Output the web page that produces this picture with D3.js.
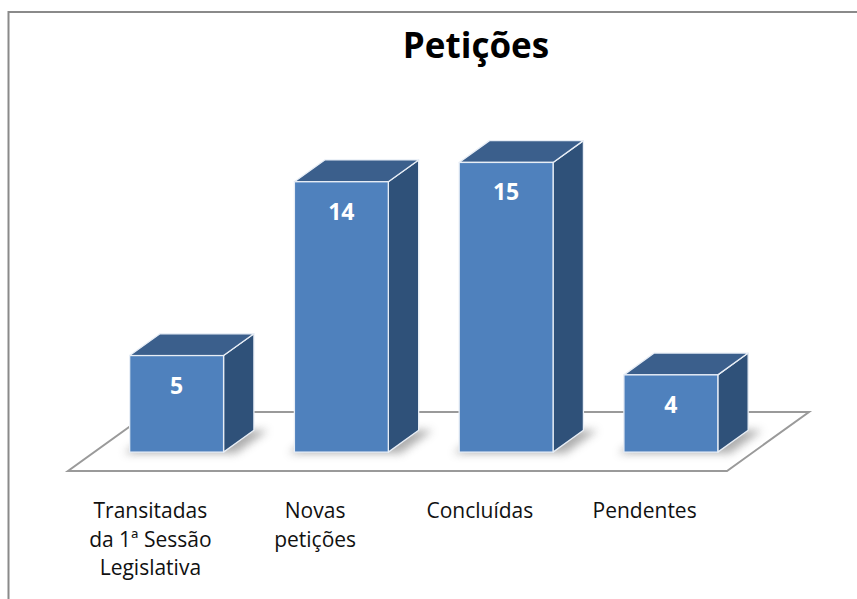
<!DOCTYPE html>
<html>
<head>
<meta charset="utf-8">
<script src="https://cdn.jsdelivr.net/npm/d3@7"></script>
<style>
  body { margin: 0; background: #fff; }
  svg { display: block; font-family: "Open Sans", sans-serif; }
</style>
</head>
<body>
<svg id="svg" width="857" height="599"></svg>
<script>
const categories = [
  ['Transitadas', 'da 1ª Sessão', 'Legislativa'],
  ['Novas', 'petições'],
  ['Concluídas'],
  ['Pendentes']
]
const values = [5, 14, 15, 4]
const title = 'Petições'

const width = 857
const height = 599
// floor: front edge and depth offset of the back edge
const floor = { left: 68, right: 727, y: 471, dx: 82, dy: 59 }
const depthFront = 0.32
const depthBack = 0.69

const svg = d3.select('#svg')

const xScale = d3.scaleBand()
  .domain(d3.range(values.length))
  .range([floor.left, floor.right])
  .padding(0)

const hScale = d3.scaleLinear()
  .domain([0, 16])
  .range([0, 309])

const proj = (x, z, h) => [x + z * floor.dx, floor.y - z * floor.dy - h]
const pts = arr => arr.map(p => p.join(',')).join(' ')

const defs = svg.append('defs')
defs.append('filter')
  .attr('id', 'shadow')
  .attr('x', '-50%').attr('y', '-50%').attr('width', '200%').attr('height', '200%')
  .append('feGaussianBlur')
  .attr('stdDeviation', 4)

// chart border
svg.append('rect')
  .attr('x', 8.5)
  .attr('y', 12)
  .attr('width', width + 20)
  .attr('height', height + 20)
  .attr('fill', '#fff')
  .attr('stroke', '#8a8a8a')
  .attr('stroke-width', 2)

// title
svg.append('text')
  .attr('x', 476)
  .attr('y', 58)
  .attr('text-anchor', 'middle')
  .attr('font-size', 35)
  .attr('font-weight', 'bold')
  .attr('fill', '#000')
  .text(title)

// floor
svg.append('polygon')
  .attr('points', pts([
    proj(floor.left, 0, 0), proj(floor.right, 0, 0),
    proj(floor.right, 1, 0), proj(floor.left, 1, 0)
  ]))
  .attr('fill', '#fff')
  .attr('stroke', '#9a9a9a')
  .attr('stroke-width', 2)

const barW = xScale.bandwidth() * 0.57
const bars = svg.append('g')

values.forEach((v, i) => {
  const cx = xScale(i) + xScale.bandwidth() / 2
  const x0 = cx - barW / 2
  const x1 = cx + barW / 2
  const h = hScale(v)
  const g = bars.append('g')

  // soft shadow on the floor
  g.append('polygon')
    .attr('points', pts([
      proj(x0 - 4, depthFront - 0.02, 0), proj(x1 + 14, depthFront - 0.02, 0),
      proj(x1 + 14, depthBack, 0), proj(x0 - 4, depthBack, 0)
    ]))
    .attr('fill', '#8c8c8c')
    .attr('opacity', 0.7)
    .attr('filter', 'url(#shadow)')

  // right side
  g.append('polygon')
    .attr('points', pts([
      proj(x1, depthFront, 0), proj(x1, depthBack, 0),
      proj(x1, depthBack, h), proj(x1, depthFront, h)
    ]))
    .attr('fill', '#2f5179')
    .attr('stroke', '#e8eef6')
    .attr('stroke-width', 1.3)
    .attr('stroke-linejoin', 'round')

  // top
  g.append('polygon')
    .attr('points', pts([
      proj(x0, depthFront, h), proj(x1, depthFront, h),
      proj(x1, depthBack, h), proj(x0, depthBack, h)
    ]))
    .attr('fill', '#3b5f8c')
    .attr('stroke', '#e8eef6')
    .attr('stroke-width', 1.3)
    .attr('stroke-linejoin', 'round')

  // front
  const [fx, fy] = proj(x0, depthFront, h)
  g.append('rect')
    .attr('x', fx)
    .attr('y', fy)
    .attr('width', barW)
    .attr('height', h)
    .attr('fill', '#4f81bd')
    .attr('stroke', '#e8eef6')
    .attr('stroke-width', 1.3)

  // value label
  g.append('text')
    .attr('x', fx + barW / 2)
    .attr('y', fy + 38)
    .attr('text-anchor', 'middle')
    .attr('font-size', 23)
    .attr('font-weight', 'bold')
    .attr('fill', '#fff')
    .text(v)
})

// category labels under the front edge
const labels = svg.append('g')
categories.forEach((lines, i) => {
  const t = labels.append('text')
    .attr('x', xScale(i) + xScale.bandwidth() / 2)
    .attr('y', 518)
    .attr('text-anchor', 'middle')
    .attr('font-size', 21)
    .attr('fill', '#111')
  lines.forEach((line, j) => {
    t.append('tspan')
      .attr('x', xScale(i) + xScale.bandwidth() / 2)
      .attr('dy', j === 0 ? 0 : 28.5)
      .text(line)
  })
})
</script>
</body>
</html>
